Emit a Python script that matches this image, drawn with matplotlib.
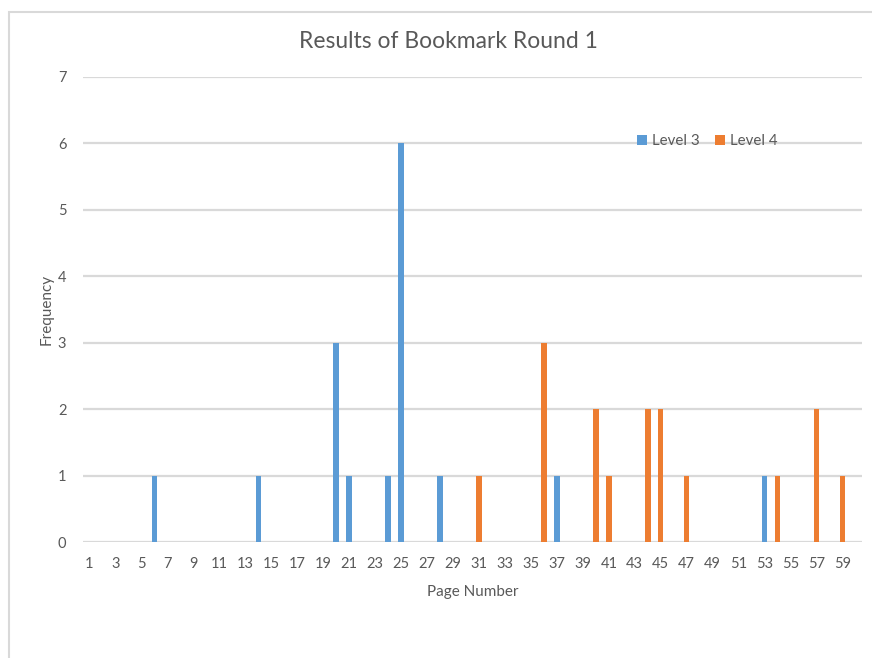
import matplotlib
matplotlib.use("Agg")
import matplotlib.pyplot as plt
from matplotlib.patches import Rectangle
import numpy as np

# ---- data ----
pages = list(range(1, 61))
level3_pages = [6, 14, 20, 21, 24, 25, 28, 37, 53]
level3_counts = [1, 1, 3, 1, 1, 6, 1, 1, 1]
level4_pages = [31, 36, 40, 41, 44, 45, 47, 54, 57, 59]
level4_counts = [1, 3, 2, 1, 2, 2, 1, 1, 2, 1]
xtick_labels = [str(p) for p in range(1, 60, 2)]
yticks = list(range(0, 8))

title = "Results of Bookmark Round 1"
xlabel = "Page Number"
ylabel = "Frequency"

blue = "#5B9BD5"
orange = "#ED7D31"
text_color = "#595959"
grid_color = "#D9D9D9"

plt.rcParams['font.family'] = ['Lato', 'DejaVu Sans']

fig = plt.figure(figsize=(8.72, 6.58), dpi=100)
ax = fig.add_axes([83/872, 1-542/658, (862-83)/872, (542-77)/658])

# full series over all categories
l3 = dict(zip(level3_pages, level3_counts))
l4 = dict(zip(level4_pages, level4_counts))
s3 = [l3.get(p, 0) for p in pages]
s4 = [l4.get(p, 0) for p in pages]

w = 0.42
ax.bar(pages, s3, width=w, color=blue, label="Level 3", zorder=3)
ax.bar(pages, s4, width=w, color=orange, label="Level 4", zorder=3)

ax.set_xlim(0.5, 60.5)
ax.set_ylim(0, 7)
ax.set_yticks(yticks)
ax.set_xticks(list(range(1, 60, 2)))
ax.set_xticklabels(xtick_labels)
ax.yaxis.grid(True, color=grid_color, linewidth=1.6, zorder=0)
ax.set_axisbelow(True)
for sp in ax.spines.values():
    sp.set_visible(False)
ax.tick_params(axis='both', length=0, labelsize=10.5, colors=text_color)
ax.tick_params(axis='x', pad=11)
ax.tick_params(axis='y', pad=12)

fig.text(448/872, 1-42/658, title, fontsize=16.5, color=text_color, ha='center', va='center')
ax.set_xlabel(xlabel, fontsize=11, color=text_color, labelpad=10)
ax.set_ylabel(ylabel, fontsize=11, color=text_color, labelpad=3)

leg = fig.legend(loc='center', bbox_to_anchor=(707/872, 1-141/658), ncol=2,
                 frameon=False, fontsize=10.8, handlelength=0.7, handleheight=0.7,
                 handletextpad=0.3, columnspacing=1.0, labelcolor=text_color)

# outer chart border
fig.add_artist(Rectangle((9/872, -0.1), 1.2, 1.1 - 12/658, transform=fig.transFigure,
                         fill=False, edgecolor=grid_color, linewidth=1.5))

fig.savefig("out.png", dpi=100)
